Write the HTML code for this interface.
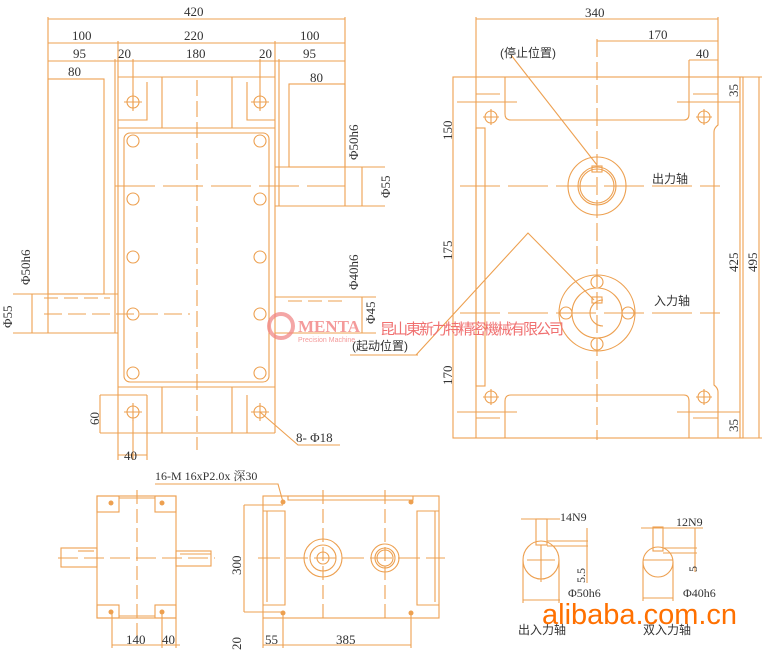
<!DOCTYPE html>
<html><head><meta charset="utf-8"><style>
html,body{margin:0;padding:0;background:#fff;width:769px;height:652px;overflow:hidden}
svg{display:block}
text{font-family:"Liberation Serif","Noto Serif CJK SC",serif;fill:#333;font-size:13px}
.c{font-family:"Liberation Sans","Noto Sans CJK SC",sans-serif}
</style></head><body>
<svg width="769" height="652" viewBox="0 0 769 652" xmlns="http://www.w3.org/2000/svg">
<g stroke="#eda050" stroke-width="1.1" fill="none">
<!-- LEFT TOP VIEW -->
<line x1="48" y1="19" x2="345" y2="19"/>
<line x1="48" y1="43" x2="345" y2="43"/>
<line x1="48" y1="61" x2="345" y2="61"/>
<line x1="48" y1="79" x2="104" y2="79"/>
<line x1="289" y1="84" x2="345" y2="84"/>
<line x1="48" y1="17" x2="48" y2="333"/>
<line x1="345" y1="17" x2="345" y2="206"/>
<line x1="118" y1="41" x2="118" y2="460"/>
<line x1="275" y1="41" x2="275" y2="433"/>
<line x1="115" y1="59" x2="115" y2="333"/>
<line x1="279" y1="59" x2="279" y2="206"/>
<line x1="133" y1="59" x2="133" y2="110"/>
<line x1="260" y1="59" x2="260" y2="110"/>
<rect x="48" y="79" width="56" height="215"/>
<line x1="13" y1="294" x2="118" y2="294"/>
<line x1="13" y1="333" x2="118" y2="333"/>
<line x1="32" y1="294" x2="32" y2="333"/>
<line x1="44" y1="298" x2="110" y2="298" stroke-dasharray="14 6"/>
<line x1="44" y1="314" x2="190" y2="314" stroke-dasharray="18 6"/>
<rect x="289" y="84" width="56" height="83"/>
<line x1="275" y1="167" x2="385" y2="167"/>
<line x1="275" y1="206" x2="385" y2="206"/>
<line x1="362" y1="167" x2="362" y2="206"/>
<line x1="275" y1="297" x2="376" y2="297"/>
<line x1="275" y1="333" x2="376" y2="333"/>
<line x1="288" y1="301" x2="345" y2="301" stroke-dasharray="14 6"/>
<line x1="362" y1="297" x2="362" y2="333"/>
<line x1="118" y1="77" x2="275" y2="77"/>
<line x1="118" y1="128" x2="275" y2="128"/>
<line x1="118" y1="387" x2="275" y2="387"/>
<line x1="118" y1="433" x2="275" y2="433"/>
<rect x="124" y="133" width="145" height="249" rx="6"/>
<path d="M118 77 H162 V128 M147 82 V120 H118"/>
<path d="M275 77 H232 V128 M247 82 V120 H275"/>
<path d="M118 433 H162 V387 M147 395 V433"/>
<path d="M275 433 H232 V387 M247 395 V433"/>
<line x1="100" y1="395" x2="147" y2="395"/>
<line x1="100" y1="433" x2="118" y2="433"/>
<line x1="100" y1="395" x2="100" y2="433"/>
<line x1="133" y1="420" x2="133" y2="460"/>
<line x1="118" y1="455" x2="147" y2="455"/>
<line x1="147" y1="433" x2="147" y2="460"/>
<line x1="197" y1="80" x2="197" y2="450" stroke-dasharray="16 5"/>
<line x1="115" y1="186" x2="345" y2="186" stroke-dasharray="40 8"/>
<g>
<circle cx="133" cy="141" r="6"/><circle cx="260" cy="141" r="6"/>
<circle cx="133" cy="199" r="6"/><circle cx="260" cy="199" r="6"/>
<circle cx="133" cy="257" r="6"/><circle cx="260" cy="257" r="6"/>
<circle cx="133" cy="314" r="6"/><circle cx="260" cy="314" r="6"/>
<circle cx="133" cy="373" r="6"/><circle cx="260" cy="373" r="6"/>
<circle cx="133" cy="102" r="6"/><circle cx="260" cy="102" r="6"/>
<circle cx="133" cy="412" r="6"/><circle cx="260" cy="412" r="6"/>
<path d="M124 102h18M133 93v18M251 102h18M260 93v18M124 412h18M133 403v18M251 412h18M260 403v18"/>
</g>
<path d="M260 412 L298 445 H340"/>

<!-- RIGHT VIEW -->
<line x1="476" y1="19" x2="718" y2="19"/>
<line x1="476" y1="17" x2="476" y2="77"/>
<line x1="718" y1="17" x2="718" y2="77"/>
<line x1="597" y1="41" x2="718" y2="41"/>
<line x1="597" y1="39" x2="597" y2="440" stroke-dasharray="18 5"/>
<line x1="689" y1="60" x2="718" y2="60"/>
<line x1="689" y1="60" x2="689" y2="77"/>
<rect x="453" y="77" width="290" height="361"/>
<path d="M476 77 H505 V114 Q505 120 511 120 H684 Q689 120 689 114 V77 H718 V125 Q714 128 714 132 V385 Q718 388 718 392 V438"/>
<path d="M476 77 V438 H505 V401 Q505 395 511 395 H684 Q689 395 689 401 V438 H718"/>
<rect x="476" y="128" width="9" height="258"/>
<line x1="457" y1="102" x2="517" y2="102"/><line x1="677" y1="102" x2="740" y2="102"/>
<line x1="457" y1="412" x2="517" y2="412"/><line x1="677" y1="412" x2="740" y2="412"/>
<line x1="476" y1="94" x2="500" y2="94"/><line x1="693" y1="94" x2="718" y2="94"/>
<line x1="476" y1="418" x2="500" y2="418"/><line x1="693" y1="418" x2="718" y2="418"/>
<circle cx="491" cy="117" r="6"/><circle cx="704" cy="117" r="6"/>
<circle cx="491" cy="397" r="6"/><circle cx="704" cy="397" r="6"/>
<path d="M483 117h16M491 109v16M696 117h16M704 109v16M483 397h16M491 389v16M696 397h16M704 389v16"/>
<line x1="460" y1="186" x2="720" y2="186" stroke-dasharray="40 8"/>
<line x1="460" y1="313" x2="720" y2="313" stroke-dasharray="40 8"/>
<circle cx="597" cy="186" r="29"/><circle cx="597" cy="186" r="19"/><circle cx="597" cy="186" r="17"/>
<rect x="592" y="166" width="10" height="6"/>
<circle cx="597" cy="313" r="38"/><circle cx="597" cy="313" r="25"/>
<path d="M603 300 A13 13 0 1 0 603 326"/>
<rect x="592" y="297" width="10" height="6"/>
<circle cx="597" cy="282" r="6"/><circle cx="597" cy="344" r="6"/>
<circle cx="566" cy="313" r="6"/><circle cx="628" cy="313" r="6"/>
<line x1="740" y1="77" x2="740" y2="438"/>
<line x1="759" y1="77" x2="759" y2="438"/>
<line x1="718" y1="77" x2="762" y2="77"/>
<line x1="718" y1="438" x2="762" y2="438"/>
<path d="M511 55 L597 165"/>
<path d="M416 355 L528 233 L594 300"/>
<line x1="350" y1="355" x2="418" y2="355"/>

<!-- BOTTOM LEFT VIEW -->
<rect x="97" y="496" width="79" height="122"/>
<rect x="97" y="496" width="22" height="16"/><rect x="155" y="496" width="21" height="16"/>
<rect x="97" y="605" width="22" height="13"/><rect x="155" y="605" width="21" height="13"/>
<line x1="119" y1="498" x2="155" y2="498"/><line x1="119" y1="616" x2="155" y2="616"/>
<rect x="61" y="548" width="36" height="19"/><line x1="78" y1="551" x2="94" y2="551"/>
<rect x="176" y="551" width="35" height="15"/><line x1="180" y1="554" x2="211" y2="554"/>
<line x1="137" y1="490" x2="137" y2="640" stroke-dasharray="14 5"/>
<line x1="58" y1="558" x2="215" y2="558" stroke-dasharray="20 6"/>
<line x1="112" y1="612" x2="112" y2="648"/><line x1="162" y1="612" x2="162" y2="648"/><line x1="176" y1="618" x2="176" y2="648"/>
<line x1="112" y1="645" x2="180" y2="645"/>
<!-- BOTTOM MIDDLE VIEW -->
<rect x="263" y="496" width="176" height="122"/>
<path d="M263 511 H285 V605 H263 M439 511 H417 V605 H439"/>
<path d="M267 511 V602 M435 511 V602"/>
<path d="M288 496 V500 H413 V496"/>
<line x1="244" y1="505" x2="283" y2="505"/><line x1="244" y1="505" x2="244" y2="612"/>
<line x1="244" y1="612" x2="283" y2="612"/>
<line x1="263" y1="618" x2="263" y2="648"/><line x1="283" y1="612" x2="283" y2="648"/>
<line x1="263" y1="645" x2="411" y2="645"/><line x1="411" y1="612" x2="411" y2="648"/>
<line x1="323" y1="490" x2="323" y2="618" stroke-dasharray="14 5"/>
<line x1="385" y1="490" x2="385" y2="618" stroke-dasharray="14 5"/>
<line x1="258" y1="558" x2="445" y2="558" stroke-dasharray="22 6"/>
<circle cx="323" cy="558" r="19"/><circle cx="323" cy="558" r="13"/><circle cx="323" cy="558" r="6"/>
<circle cx="385" cy="558" r="14"/><circle cx="385" cy="558" r="10"/><circle cx="385" cy="558" r="8"/>
<path d="M155 484 H278 L283 502"/>
<!-- KEYWAY VIEWS -->
<ellipse cx="541" cy="560" rx="18" ry="19"/>
<rect x="536" y="519" width="11" height="26"/>
<line x1="521" y1="519" x2="560" y2="519"/>
<line x1="547" y1="541" x2="588" y2="541"/><line x1="547" y1="546" x2="588" y2="546"/>
<line x1="587" y1="528" x2="587" y2="583"/>
<line x1="523" y1="560" x2="523" y2="603"/><line x1="559" y1="560" x2="559" y2="603"/>
<line x1="523" y1="600" x2="560" y2="600"/>
<line x1="527" y1="560" x2="555" y2="560"/><line x1="541" y1="545" x2="541" y2="582"/>
<circle cx="658" cy="562" r="15"/>
<rect x="653" y="527" width="10" height="24"/>
<line x1="641" y1="528" x2="703" y2="528"/>
<line x1="663" y1="548" x2="697" y2="548"/><line x1="663" y1="553" x2="697" y2="553"/>
<line x1="695" y1="528" x2="695" y2="572"/>
<line x1="643" y1="560" x2="673" y2="560"/>
<line x1="643" y1="562" x2="643" y2="601"/><line x1="673" y1="562" x2="673" y2="601"/>
<line x1="643" y1="598" x2="673" y2="598"/>
</g>
<g fill="#eda050">
<circle cx="283" cy="502" r="2.5"/><circle cx="411" cy="502" r="2.5"/><circle cx="283" cy="613" r="2.5"/><circle cx="411" cy="613" r="2.5"/>
<circle cx="111" cy="503" r="2.5"/><circle cx="162" cy="503" r="2.5"/><circle cx="111" cy="612" r="2.5"/><circle cx="162" cy="612" r="2.5"/>
</g>
<!-- TEXTS -->
<text x="184" y="16">420</text>
<text x="72" y="40">100</text><text x="184" y="40">220</text><text x="300" y="40">100</text>
<text x="73" y="58">95</text><text x="118" y="58">20</text><text x="186" y="58">180</text><text x="259" y="58">20</text><text x="303" y="58">95</text>
<text x="68" y="76">80</text><text x="310" y="82">80</text>
<text x="358" y="160" transform="rotate(-90 358 160)">Φ50h6</text>
<text x="390" y="198" transform="rotate(-90 390 198)">Φ55</text>
<text x="358" y="290" transform="rotate(-90 358 290)">Φ40h6</text>
<text x="375" y="324" transform="rotate(-90 375 324)">Φ45</text>
<text x="30" y="285" transform="rotate(-90 30 285)">Φ50h6</text>
<text x="12" y="328" transform="rotate(-90 12 328)">Φ55</text>
<text x="99" y="425" transform="rotate(-90 99 425)">60</text>
<text x="124" y="460">40</text>
<text x="296" y="442">8- Φ18</text>
<text x="585" y="17">340</text><text x="648" y="39">170</text><text x="696" y="58">40</text>
<text x="500" y="57" class="c" style="font-size:12px">(停止位置)</text>
<text x="652" y="183" class="c" style="font-size:12px">出力轴</text>
<text x="654" y="305" class="c" style="font-size:12px">入力轴</text>
<text x="352" y="350" class="c" style="font-size:12px">(起动位置)</text>
<text x="452" y="140" transform="rotate(-90 452 140)">150</text>
<text x="452" y="260" transform="rotate(-90 452 260)">175</text>
<text x="452" y="385" transform="rotate(-90 452 385)">170</text>
<text x="738" y="97" transform="rotate(-90 738 97)">35</text>
<text x="738" y="432" transform="rotate(-90 738 432)">35</text>
<text x="738" y="272" transform="rotate(-90 738 272)">425</text>
<text x="757" y="272" transform="rotate(-90 757 272)">495</text>
<text x="155" y="480" style="font-size:12px">16-M 16xP2.0x 深30</text>
<text x="241" y="575" transform="rotate(-90 241 575)">300</text>
<text x="241" y="650" transform="rotate(-90 241 650)">20</text>
<text x="126" y="644">140</text><text x="162" y="644">40</text>
<text x="265" y="644">55</text><text x="336" y="644">385</text>
<text x="560" y="521" style="font-size:12px">14N9</text>
<text x="676" y="526" style="font-size:12px">12N9</text>
<text x="585" y="583" transform="rotate(-90 585 583)" style="font-size:12px">5.5</text>
<text x="697" y="572" transform="rotate(-90 697 572)" style="font-size:12px">5</text>
<text x="568" y="597" style="font-size:12px">Φ50h6</text>
<text x="683" y="597" style="font-size:12px">Φ40h6</text>
<text x="518" y="634" class="c" style="font-size:12px">出入力轴</text>
<text x="643" y="634" class="c" style="font-size:12px">双入力轴</text>
<!-- watermarks -->
<circle cx="281" cy="326" r="12" fill="none" stroke="#f08080" stroke-width="4" opacity="0.7"/>
<text x="298" y="332" style="font-size:17px;fill:#f49a9a;font-weight:bold">MENTA</text>
<text x="298" y="342" class="c" style="font-size:7px;fill:#f49a9a">Precision  Machine</text>
<text x="380" y="334" class="c" style="font-size:15px;fill:#f07070;letter-spacing:-2px">昆山東新力特精密機械有限公司</text>
<text x="542" y="624" class="c" style="font-size:29px;fill:#ff7000">alibaba.com.cn</text>
</svg>
</body></html>
